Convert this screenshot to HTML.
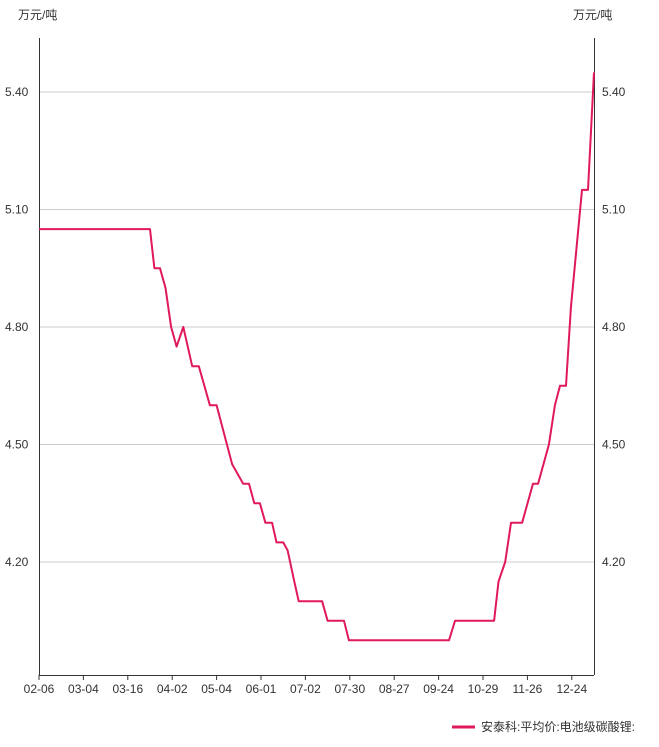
<!DOCTYPE html>
<html><head><meta charset="utf-8"><style>
body{margin:0;background:#fff;width:659px;height:742px;overflow:hidden;font-family:"Liberation Sans","Noto Sans CJK SC",sans-serif;}
svg text{font-family:"Liberation Sans","Noto Sans CJK SC",sans-serif;font-size:12px;fill:#333;}
</style></head><body>
<svg id="c" width="659" height="742"></svg>
<script>
const tickLabels=["02-06","03-04","03-16","04-02","05-04","06-01","07-02","07-30","08-27","09-24","10-29","11-26","12-24"];
const yTicks=[4.20,4.50,4.80,5.10,5.40];
const days=[0,50,52,54.5,57,59.5,62,65,69,72,77,80,87,92,94.6,97,99.5,102,105,107,110,112,115,117,127.5,130,137.4,139.6,184.7,187.4,205,207,210,212.6,217.6,222.5,224.8,229.7,232.4,234.7,237.4,239.6,244.6,247.3,250];
const prices=[5.05,5.05,4.95,4.95,4.90,4.80,4.75,4.80,4.70,4.70,4.60,4.60,4.45,4.40,4.40,4.35,4.35,4.30,4.30,4.25,4.25,4.23,4.15,4.10,4.10,4.05,4.05,4.00,4.00,4.05,4.05,4.15,4.20,4.30,4.30,4.40,4.40,4.50,4.60,4.65,4.65,4.85,5.15,5.15,5.45];
const L=39,R=594,T=38,B=675,daysPerTick=20,totalDays=250;
const x=d=>L+d*(R-L)/totalDays;
const y=v=>92+(5.40-v)*117.5/0.3;
const svg=document.getElementById('c');const NS='http://www.w3.org/2000/svg';
function mk(t,a,p){const e=document.createElementNS(NS,t);for(const k in a)e.setAttribute(k,a[k]);(p||svg).appendChild(e);return e;}
yTicks.forEach(v=>{
 const g=mk('line',{x1:L,x2:R,y1:y(v),y2:y(v),stroke:'#ccc','stroke-width':1});
 
 
 const t1=mk('text',{x:5,y:y(v)+4});t1.textContent=v.toFixed(2);
 
 
 const t2=mk('text',{x:602,y:y(v)+4});t2.textContent=v.toFixed(2);
 
 
});
const a1=mk('line',{x1:L+.5,x2:L+.5,y1:T,y2:B,stroke:'#333'});


const a2=mk('line',{x1:R+.5,x2:R+.5,y1:T,y2:B,stroke:'#333'});


const a3=mk('line',{x1:L,x2:R,y1:B+.5,y2:B+.5,stroke:'#333'});


tickLabels.forEach((s,i)=>{
 const px=x(i*daysPerTick);
 const tk=mk('line',{x1:px,x2:px,y1:B,y2:B+5,stroke:'#333'});
 
 
 const t=mk('text',{x:px,y:B+18,'text-anchor':'middle'});t.textContent=s;
 
 
});
const u1=mk('text',{x:18,y:19});u1.textContent='万元/吨';


const u2=mk('text',{x:573,y:19});u2.textContent='万元/吨';


const pts=days.map((d,i)=>x(d).toFixed(1)+','+y(prices[i]).toFixed(1)).join(' ');
const pl=mk('polyline',{points:pts,fill:'none',stroke:'#e0195a','stroke-width':2,'stroke-linejoin':'round'});


const lg=mk('g',{});


mk('line',{x1:452,x2:475,y1:727,y2:727,stroke:'#e0195a','stroke-width':3},lg);
const lt=mk('text',{x:481,y:731},lg);lt.textContent='安泰科:平均价:电池级碳酸锂:';
</script>
</body></html>
